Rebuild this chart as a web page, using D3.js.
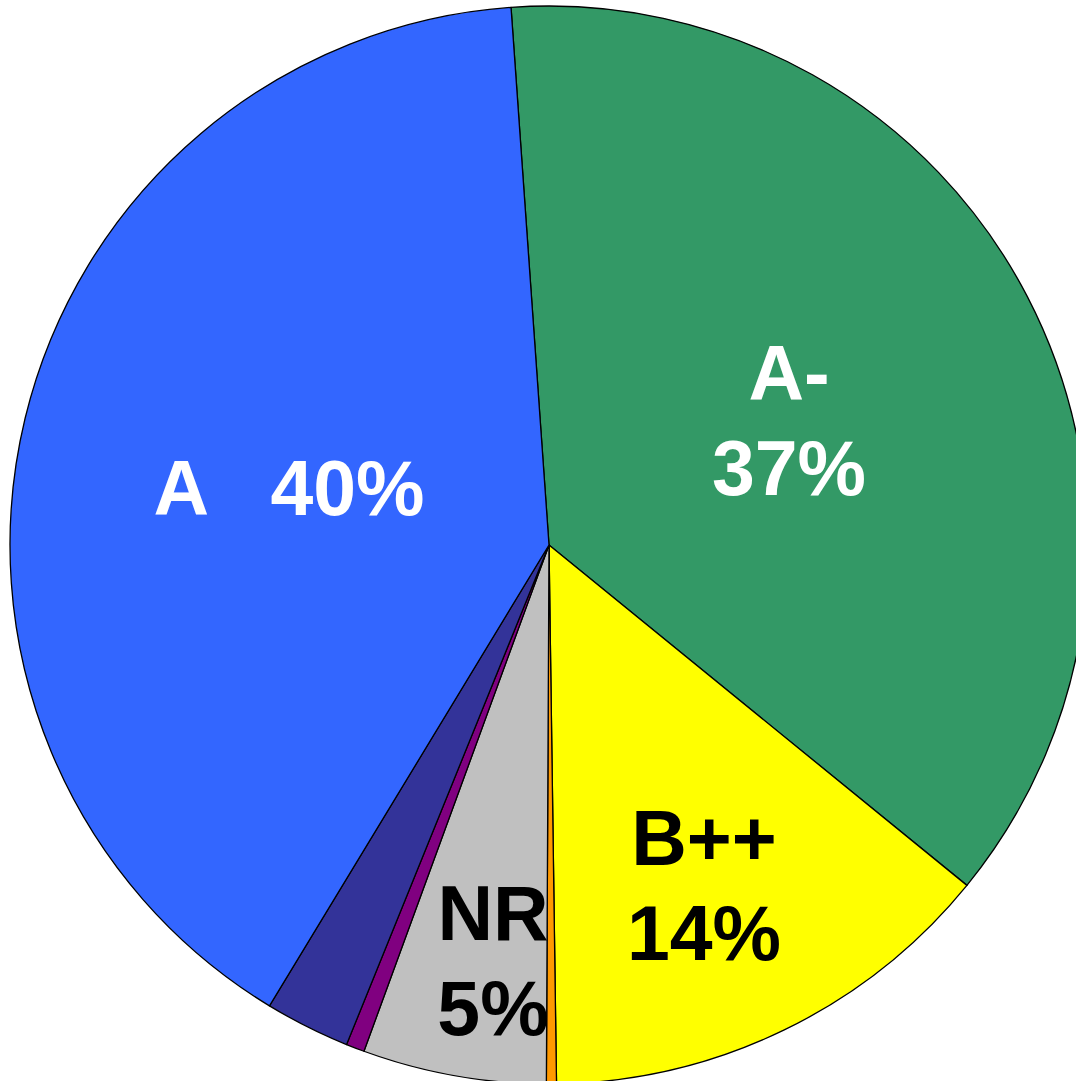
<!DOCTYPE html>
<html>
<head>
<meta charset="utf-8">
<script src="https://cdn.jsdelivr.net/npm/d3@7/dist/d3.min.js"></script>
<style>
  html, body { margin: 0; padding: 0; background: #fff; overflow: hidden; }
  .lbl { font-family: "Liberation Sans", Arial, sans-serif; font-weight: bold; white-space: pre; }
</style>
</head>
<body>
<div id="chart"></div>
<script>
// slice data, clockwise from the top
var categories = ["A-", "B++", "B+", "NR", "B", "A+", "A"];
var shares     = [37, 13.9, 0.3, 5.5, 0.55, 2.55, 40.2];
var colors     = ["#339966", "#FFFF00", "#FF9900", "#C0C0C0", "#800080", "#333399", "#3366FF"];

// labels shown on the chart
var labelLines = [["A-", "37%"], ["B++", "14%"], ["NR", "5%"], ["A   40%"]];
var labelCats  = ["A-", "B++", "NR", "A"];

var width = 1076, height = 1081;
var cx = 549, cy = 545, radius = 539;
var startDeg = -4.04;

var svg = d3.select("#chart").append("svg")
    .attr("width", width)
    .attr("height", height);

var g = svg.append("g")
    .attr("transform", "translate(" + cx + "," + cy + ")");

var pie = d3.pie()
    .sort(null)
    .value(function(d) { return d.v; })
    .startAngle(startDeg * Math.PI / 180)
    .endAngle((startDeg + 360) * Math.PI / 180);

var data = categories.map(function(c, i) { return {cat: c, v: shares[i], col: colors[i]}; });

var arc = d3.arc().innerRadius(0).outerRadius(radius);

g.selectAll("path.slice")
    .data(pie(data))
  .enter().append("path")
    .attr("class", "slice")
    .attr("d", arc)
    .attr("fill", function(d) { return d.data.col; })
    .attr("stroke", "#000")
    .attr("stroke-width", 1.3)
    .attr("stroke-linejoin", "round");

// label placement (page coords: centre x, first baseline), set by hand
var labelPos = {"A-": [789, 400], "B++": [704, 865], "NR": [493, 940], "A": [289, 515]};
var labelFill = {"A-": "#fff", "B++": "#000", "NR": "#000", "A": "#fff"};
var fontSize = 77, lineGap = 95;

labelCats.forEach(function(c, i) {
  var lines = labelLines[i];
  var p = labelPos[c];
  var t = svg.append("text")
      .attr("class", "lbl")
      .attr("text-anchor", "middle")
      .attr("font-size", fontSize + "px")
      .attr("fill", labelFill[c]);
  lines.forEach(function(s, k) {
    t.append("tspan")
      .attr("x", p[0])
      .attr("y", p[1] + k * lineGap)
      .text(s);
  });
});
</script>
</body>
</html>
